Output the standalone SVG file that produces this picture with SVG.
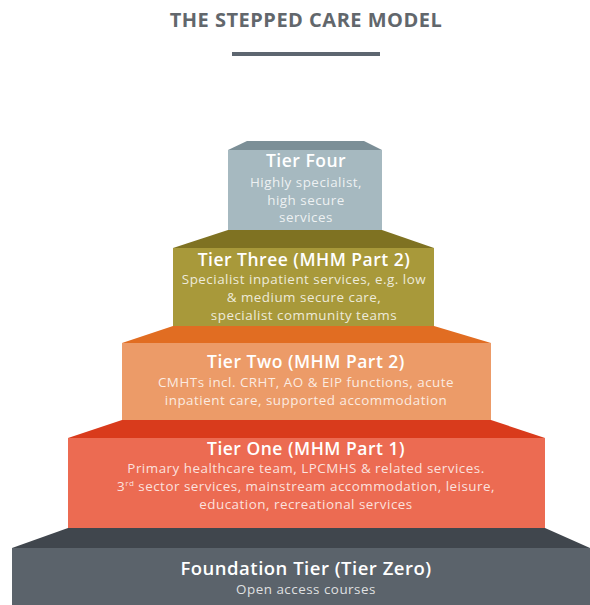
<svg xmlns="http://www.w3.org/2000/svg" width="590" height="605" viewBox="0 0 590 605">
<style>
  .title { font-family: "Open Sans", "Liberation Sans", sans-serif; font-weight: 700; font-size: 20px; fill: #62676c; letter-spacing: 0.5px; }
  .head { font-family: "Open Sans", "Liberation Sans", sans-serif; font-weight: 600; font-size: 17.5px; fill: #ffffff; text-anchor: middle; letter-spacing: 0.5px; }
  .body { font-family: "Open Sans", "Liberation Sans", sans-serif; font-weight: 400; font-size: 13.4px; fill: #ffffff; fill-opacity: 0.82; text-anchor: middle; letter-spacing: 0.5px; }
</style>
<rect width="590" height="605" fill="#ffffff"/>
<text class="title" x="306" y="27" text-anchor="middle">THE STEPPED CARE MODEL</text>
<rect x="232" y="52" width="148" height="4" fill="#5d6670"/>

<g id="tier-zero">
  <polygon points="68,528 545,528 590,548 12,548" fill="#40464d"/>
  <rect x="12" y="548" width="578" height="57" fill="#5b636b"/>
  <text class="head" x="306" y="575" style="font-size:18.5px">Foundation Tier (Tier Zero)</text>
  <text class="body" x="306" y="594">Open access courses</text>
</g>

<g id="tier-one">
  <polygon points="122,420 491,420 545,438 68,438" fill="#d93b1c"/>
  <rect x="68" y="438" width="477" height="90" fill="#ec6b52"/>
  <text class="head" x="306" y="455">Tier One (MHM Part 1)</text>
  <text class="body" x="306" y="473">Primary healthcare team, LPCMHS &amp; related services.</text>
  <text class="body" x="306" y="491">3<tspan font-size="8" dy="-5">rd</tspan><tspan dy="5"> sector services, mainstream accommodation, leisure,</tspan></text>
  <text class="body" x="306" y="509">education, recreational services</text>
</g>

<g id="tier-two">
  <polygon points="173,326 434,326 491,343 122,343" fill="#e16d22"/>
  <rect x="122" y="343" width="369" height="77" fill="#ec9b68"/>
  <text class="head" x="306" y="368">Tier Two (MHM Part 2)</text>
  <text class="body" x="306" y="387">CMHTs incl. CRHT, AO &amp; EIP functions, acute</text>
  <text class="body" x="306" y="405">inpatient care, supported accommodation</text>
</g>

<g id="tier-three">
  <polygon points="228,230 382,230 434,248 173,248" fill="#7f7222"/>
  <rect x="173" y="248" width="261" height="78" fill="#a8993a"/>
  <text class="head" x="304" y="266">Tier Three (MHM Part 2)</text>
  <text class="body" x="304" y="284">Specialist inpatient services, e.g. low</text>
  <text class="body" x="304" y="302">&amp; medium secure care,</text>
  <text class="body" x="304" y="320">specialist community teams</text>
</g>

<g id="tier-four">
  <polygon points="247,141 364,141 382,150 228,150" fill="#7c8f97"/>
  <rect x="228" y="150" width="154" height="80" fill="#a6b9c0"/>
  <text class="head" x="306" y="167">Tier Four</text>
  <text class="body" x="306" y="187">Highly specialist,</text>
  <text class="body" x="306" y="205">high secure</text>
  <text class="body" x="306" y="222">services</text>
</g>

<g id="connectors"></g>
</svg>
